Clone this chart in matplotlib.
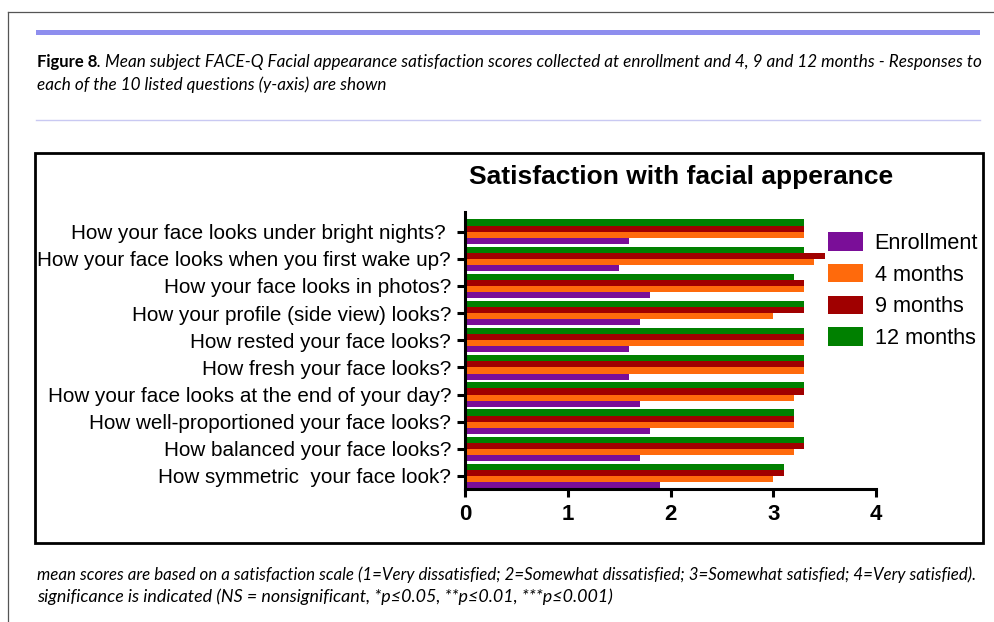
import matplotlib
matplotlib.use("Agg")
import matplotlib.pyplot as plt
from matplotlib.patches import Rectangle, Patch
from matplotlib.lines import Line2D
import numpy as np

# ---------------- data ----------------
questions = [
    "How your face looks under bright nights? ",
    "How your face looks when you first wake up?",
    "How your face looks in photos?",
    "How your profile (side view) looks?",
    "How rested your face looks?",
    "How fresh your face looks?",
    "How your face looks at the end of your day?",
    "How well-proportioned your face looks?",
    "How balanced your face looks?",
    "How symmetric  your face look?",
]
series_names = ["Enrollment", "4 months", "9 months", "12 months"]
enrollment = [1.6, 1.5, 1.8, 1.7, 1.6, 1.6, 1.7, 1.8, 1.7, 1.9]
months4 = [3.3, 3.4, 3.3, 3.0, 3.3, 3.3, 3.2, 3.2, 3.2, 3.0]
months9 = [3.3, 3.5, 3.3, 3.3, 3.3, 3.3, 3.3, 3.2, 3.3, 3.1]
months12 = [3.3, 3.3, 3.2, 3.3, 3.3, 3.3, 3.3, 3.2, 3.3, 3.1]
series_colors = ["#7A0E98", "#FF6A0C", "#A00000", "#008000"]
xticks = [0, 1, 2, 3, 4]

title = "Satisfaction with facial apperance"
cap_bold = "Figure 8"
cap_line1 = ". Mean subject FACE-Q Facial appearance satisfaction scores collected at enrollment and 4, 9 and 12 months - Responses to"
cap_line2 = "each of the 10 listed questions (y-axis) are shown"
foot1 = "mean scores are based on a satisfaction scale (1=Very dissatisfied; 2=Somewhat dissatisfied; 3=Somewhat satisfied; 4=Very satisfied)."
foot2 = "significance is indicated (NS = nonsignificant, *p\u22640.05, **p\u22640.01, ***p\u22640.001)"

W, H = 995, 622
fig = plt.figure(figsize=(W / 100, H / 100), dpi=100)
fig.patch.set_facecolor("white")


def fx(x):
    return x / W


def fy(y):
    return 1 - y / H


# page frame (cropped)
fig.add_artist(Line2D([fx(8), fx(8)], [fy(12), fy(622)], color="#555555", lw=0.9))
fig.add_artist(Line2D([fx(8), fx(995)], [fy(12), fy(12)], color="#555555", lw=0.9))
# blue rule
fig.add_artist(Rectangle((fx(36), fy(35)), fx(980) - fx(36), fy(30) - fy(35),
                         facecolor="#8E8EEE", edgecolor="none"))
# thin lavender rule
fig.add_artist(Line2D([fx(36), fx(980)], [fy(120), fy(120)], color="#C9C9F2", lw=1.0))

# chart box
fig.add_artist(Rectangle((fx(35), fy(543)), fx(983) - fx(35), fy(153) - fy(543),
                         facecolor="none", edgecolor="black", lw=2.0))

renderer = fig.canvas.get_renderer()


def fit_text(x, y, s, target_w, **kw):
    t = fig.text(fx(x), fy(y), s, va="baseline", ha="left", **kw)
    fs = t.get_fontsize()
    w = t.get_window_extent(renderer).width
    t.set_fontsize(fs * target_w / w)
    return t


cap_font = ["Lato", "DejaVu Sans"]
tb = fig.text(fx(37), fy(67), cap_bold, fontsize=12, fontweight="bold",
              family=cap_font, va="baseline")
bw = tb.get_window_extent(renderer).width
t1 = fit_text(37 + bw, 67, cap_line1, 977 - 37 - bw, family=cap_font,
              style="italic", fontsize=11)
fig.text(fx(37), fy(90), cap_line2, family=cap_font, style="italic",
         fontsize=t1.get_fontsize(), va="baseline")
fit_text(37, 580, foot1, 978 - 37, family=cap_font, style="italic", fontsize=11)
fit_text(37, 602, foot2, 613 - 37, family=cap_font, style="italic", fontsize=11)

# -------------- chart --------------
ax = fig.add_axes([fx(465), fy(489), fx(876) - fx(465), fy(212) - fy(489)])
y = np.arange(len(questions))
h = 0.225
offsets = [0.3375, 0.1125, -0.1125, -0.3375]
for vals, col, off, name in zip([enrollment, months4, months9, months12],
                                series_colors, offsets, series_names):
    ax.barh(y + off, vals, height=h, color=col, label=name, edgecolor="none")

ax.set_xlim(0, 4)
ax.set_ylim(9.48, -0.726)
ax.set_xticks(xticks)
ax.set_xticklabels([str(v) for v in xticks], fontsize=16, fontweight="bold",
                   family="Liberation Sans")
ax.set_yticks(y)
ax.set_yticklabels(questions, fontsize=14.85, family="Liberation Sans")
for s in ["top", "right"]:
    ax.spines[s].set_visible(False)
for s in ["left", "bottom"]:
    ax.spines[s].set_linewidth(2.2)
ax.tick_params(axis="both", length=6, width=2.2, color="black")
ax.tick_params(axis="y", pad=4)
ax.tick_params(axis="x", pad=5)

fig.text(fx(681.5), fy(183.6), title, ha="center", va="baseline", fontsize=19,
         fontweight="bold", family="Liberation Sans")

handles = [Patch(facecolor=c, edgecolor="none") for c in series_colors]
fig.legend(handles, series_names, loc="upper left",
           bbox_to_anchor=(fx(828), fy(232)), frameon=False,
           prop={"family": "Liberation Sans", "size": 15.6},
           handlelength=1.6, handleheight=0.95, handletextpad=0.55,
           labelspacing=0.46, borderaxespad=0, borderpad=0)

fig.savefig("out.png", dpi=100, facecolor="white")
